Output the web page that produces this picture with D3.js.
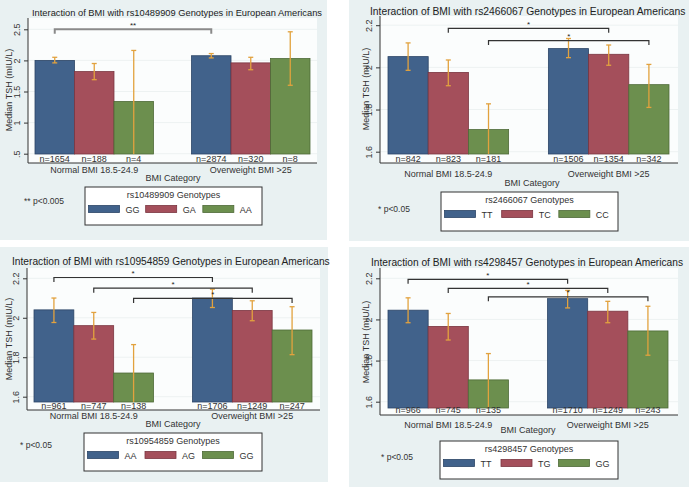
<!DOCTYPE html>
<html><head><meta charset="utf-8">
<script src="https://cdn.jsdelivr.net/npm/d3@7"></script>
<style>body{margin:0;background:#fff}svg{display:block;font-family:"Liberation Sans",Arial,sans-serif}</style>
</head><body><svg id="c" width="689" height="489"></svg>
<script>
// ---------- DATA ----------
const bmiGroups = ["Normal BMI 18.5-24.9", "Overweight BMI >25"];

// Panel A: rs10489909
const aSnp = "rs10489909";
const aGenotypes = ["GG", "GA", "AA"];
const aMedian = [[2.00, 1.82, 1.34], [2.075, 1.96, 2.03]];
const aLower = [[1.96, 1.69, 0.40], [2.04, 1.85, 1.60]];
const aUpper = [[2.05, 1.95, 2.16], [2.11, 2.05, 2.46]];
const aN = [[1654, 188, 4], [2874, 320, 8]];
const aTicks = [0.5, 1, 1.5, 2, 2.5];
const aTickLabels = [".5", "1", "1.5", "2", "2.5"];
const aBrackets = [{g: 0, level: 2.5, label: "**"}];
const aNote = "** p<0.005";

// Panel B: rs2466067
const bSnp = "rs2466067";
const bGenotypes = ["TT", "TC", "CC"];
const bMedian = [[2.051, 1.976, 1.705], [2.089, 2.062, 1.918]];
const bLower = [[1.986, 1.913, 1.50], [2.046, 2.01, 1.81]];
const bUpper = [[2.116, 2.035, 1.827], [2.137, 2.106, 2.014]];
const bN = [[842, 823, 181], [1506, 1354, 342]];
const bTicks = [1.6, 1.8, 2, 2.2];
const bTickLabels = ["1.6", "1.8", "2", "2.2"];
const bBrackets = [{g: 1, level: 2.185, label: "*"}, {g: 2, level: 2.127, label: "*"}];
const bNote = "* p<0.05";

// Panel C: rs10954859
const cSnp = "rs10954859";
const cGenotypes = ["AA", "AG", "GG"];
const cMedian = [[2.04, 1.96, 1.72], [2.10, 2.037, 1.938]];
const cLower = [[1.976, 1.892, 1.50], [2.052, 1.985, 1.813]];
const cUpper = [[2.10, 2.027, 1.864], [2.145, 2.086, 2.056]];
const cN = [[961, 747, 138], [1706, 1249, 247]];
const cTicks = [1.6, 1.8, 2, 2.2];
const cTickLabels = ["1.6", "1.8", "2", "2.2"];
const cBrackets = [{g: 0, level: 2.204, label: "*"}, {g: 1, level: 2.150, label: "*"}, {g: 2, level: 2.098, label: "*"}];
const cNote = "* p<0.05";

// Panel D: rs4298457
const dSnp = "rs4298457";
const dGenotypes = ["TT", "TG", "GG"];
const dMedian = [[2.045, 1.966, 1.706], [2.101, 2.04, 1.944]];
const dLower = [[1.984, 1.90, 1.50], [2.056, 1.984, 1.826]];
const dUpper = [[2.105, 2.029, 1.834], [2.141, 2.088, 2.064]];
const dN = [[966, 745, 135], [1710, 1249, 243]];
const dTicks = [1.6, 1.8, 2, 2.2];
const dTickLabels = ["1.6", "1.8", "2", "2.2"];
const dBrackets = [{g: 0, level: 2.195, label: "*"}, {g: 1, level: 2.151, label: "*"}, {g: 2, level: 2.110, label: "*"}];
const dNote = "* p<0.05";

const barColors = ["#41628b", "#a44f5b", "#6c8f4e"];
const barStroke = ["#2c4566", "#7a3540", "#4e6a37"];

// ---------- DRAW ----------
const svg = d3.select("#c");
let clipId = 0;

function panel(cfg, L) {
  const g = svg.append("g");
  g.append("rect").attr("x", L.bg[0]).attr("y", L.bg[1])
    .attr("width", L.bg[2] - L.bg[0]).attr("height", L.bg[3] - L.bg[1]).attr("fill", "#e9f1f2");
  g.append("rect").attr("x", L.axisX).attr("y", L.plotTop)
    .attr("width", L.plotRight - L.axisX).attr("height", L.axisY - L.plotTop).attr("fill", "#fbfdfd");

  const y = d3.scaleLinear().domain(L.yDomain).range(L.yRange);
  const x0 = d3.scaleBand().domain(bmiGroups).range(L.barRange).paddingInner(L.pad).paddingOuter(0);
  const x1 = d3.scaleBand().domain(cfg.genotypes).range([0, x0.bandwidth()]).padding(0);
  const cx = (gi, k) => x0(bmiGroups[gi]) + x1(cfg.genotypes[k]) + x1.bandwidth() / 2;

  // gridlines
  g.selectAll(".grid").data(cfg.ticks).join("line")
    .attr("x1", L.axisX).attr("x2", L.plotRight)
    .attr("y1", d => y(d)).attr("y2", d => y(d))
    .attr("stroke", "#edf2f2").attr("stroke-width", 1);

  // title
  g.append("text").attr("x", L.titleX).attr("y", L.titleY)
    .attr("text-anchor", L.titleAnchor).attr("font-size", L.titleSize).attr("fill", "#222")
    .text(`Interaction of BMI with ${cfg.snp} Genotypes in European Americans`);

  // y axis
  const yAxis = d3.axisLeft(y).tickValues(cfg.ticks).tickFormat((d, i) => cfg.tickLabels[i]).tickSize(4).tickPadding(2);
  const ya = g.append("g").attr("transform", `translate(${L.axisX},0)`).call(yAxis);
  ya.select(".domain").remove();
  ya.selectAll(".tick line").attr("stroke", "#333");
  ya.selectAll(".tick text").attr("font-size", 9).attr("fill", "#333").attr("font-family", "Liberation Sans, Arial, sans-serif")
    .attr("text-anchor", "middle").attr("dy", null).attr("x", null)
    .attr("transform", "translate(-8,0) rotate(-90)");
  g.append("line").attr("x1", L.axisX).attr("x2", L.axisX).attr("y1", L.plotTop).attr("y2", L.axisY)
    .attr("stroke", "#333").attr("stroke-width", 1);
  g.append("line").attr("x1", L.axisX).attr("x2", L.plotRight).attr("y1", L.axisY).attr("y2", L.axisY)
    .attr("stroke", "#333").attr("stroke-width", 1);
  g.append("text").attr("transform", `translate(${L.yTitleX},${(L.plotTop + L.barBottom) / 2 + 4}) rotate(-90)`)
    .attr("text-anchor", "middle").attr("font-size", 9).attr("fill", "#333").text("Median TSH (mIU/L)");

  // bars
  const flat = [];
  cfg.median.forEach((row, gi) => row.forEach((v, k) => flat.push({gi, k, v, lo: cfg.lower[gi][k], hi: cfg.upper[gi][k], n: cfg.n[gi][k]})));
  g.selectAll(".bar").data(flat).join("rect")
    .attr("x", d => x0(bmiGroups[d.gi]) + x1(cfg.genotypes[d.k]))
    .attr("width", x1.bandwidth())
    .attr("y", d => y(d.v)).attr("height", d => L.barBottom - y(d.v))
    .attr("fill", d => barColors[d.k]).attr("stroke", d => barStroke[d.k]).attr("stroke-width", 0.8);

  // error bars (clipped to plot)
  const id = "clip" + (clipId++);
  svg.append("clipPath").attr("id", id).append("rect")
    .attr("x", L.axisX).attr("y", L.plotTop).attr("width", L.plotRight - L.axisX).attr("height", L.barBottom - L.plotTop);
  const eg = g.append("g").attr("clip-path", `url(#${id})`);
  const ecol = "#e2a23e";
  eg.selectAll(".ev").data(flat).join("line")
    .attr("x1", d => cx(d.gi, d.k)).attr("x2", d => cx(d.gi, d.k))
    .attr("y1", d => y(d.hi)).attr("y2", d => y(d.lo)).attr("stroke", ecol).attr("stroke-width", 1.3);
  ["hi", "lo"].forEach(key => {
    eg.selectAll(".ec" + key).data(flat).join("line")
      .attr("x1", d => cx(d.gi, d.k) - 2.5).attr("x2", d => cx(d.gi, d.k) + 2.5)
      .attr("y1", d => y(d[key])).attr("y2", d => y(d[key])).attr("stroke", ecol).attr("stroke-width", 1.3);
  });

  // n labels
  g.selectAll(".nl").data(flat).join("text")
    .attr("x", d => cx(d.gi, d.k)).attr("y", L.nY).attr("text-anchor", "middle")
    .attr("font-size", 9).attr("fill", "#333").text(d => "n=" + d.n);

  // category labels
  g.selectAll(".cat").data(bmiGroups).join("text")
    .attr("x", d => x0(d) + x0.bandwidth() / 2).attr("y", L.catY).attr("text-anchor", "middle")
    .attr("font-size", 9).attr("fill", "#333").text(d => d);
  g.append("text").attr("x", L.xTitleX).attr("y", L.xTitleY).attr("text-anchor", "middle")
    .attr("font-size", 9).attr("fill", "#333").text("BMI Category");

  // brackets
  cfg.brackets.forEach(b => {
    const xa = cx(0, b.g), xb = cx(1, b.g), yy = y(b.level);
    g.append("path").attr("d", `M${xa},${yy + 4.5}V${yy}H${xb}V${yy + 4.5}`)
      .attr("fill", "none").attr("stroke", L.brColor).attr("stroke-width", L.brWidth);
    g.append("text").attr("x", (xa + xb) / 2).attr("y", yy - 1.5).attr("text-anchor", "middle")
      .attr("font-size", 8).attr("fill", "#222").text(b.label);
  });

  // legend
  const lb = L.legend;
  g.append("rect").attr("x", lb[0]).attr("y", lb[1]).attr("width", lb[2] - lb[0]).attr("height", lb[3] - lb[1])
    .attr("fill", "#fff").attr("stroke", "#333").attr("stroke-width", 1);
  g.append("text").attr("x", (lb[0] + lb[2]) / 2).attr("y", lb[1] + 10.5).attr("text-anchor", "middle")
    .attr("font-size", 9).attr("fill", "#333").text(`${cfg.snp} Genotypes`);
  const sw = d3.scaleBand().domain(cfg.genotypes).range([lb[0] + 3.5, lb[2] - 2]).padding(0);
  cfg.genotypes.forEach((gt, k) => {
    g.append("rect").attr("x", sw(gt)).attr("y", lb[1] + 18.5).attr("width", 31).attr("height", 7)
      .attr("fill", barColors[k]).attr("stroke", barStroke[k]).attr("stroke-width", 0.8);
    g.append("text").attr("x", sw(gt) + 37).attr("y", lb[1] + 26).attr("font-size", 9).attr("fill", "#333").text(gt);
  });
  g.append("text").attr("x", L.noteX).attr("y", L.noteY).attr("font-size", 8.5).attr("fill", "#333").text(cfg.note);
}

panel({snp: aSnp, genotypes: aGenotypes, median: aMedian, lower: aLower, upper: aUpper, n: aN,
       ticks: aTicks, tickLabels: aTickLabels, brackets: aBrackets, note: aNote},
  {bg: [0, 0, 327, 240], axisX: 28, plotRight: 317, plotTop: 18, axisY: 163, barBottom: 154,
   yDomain: [0.5, 2.5], yRange: [153.7, 29.3], barRange: [35, 310], pad: 0.243,
   titleX: 177, titleY: 15.5, titleAnchor: "middle", titleSize: 9.3, yTitleX: 12,
   nY: 162, catY: 173, xTitleX: 173, xTitleY: 181, legend: [85, 187, 262, 225],
   noteX: 24, noteY: 204, brColor: "#8a8a8a", brWidth: 2});

panel({snp: bSnp, genotypes: bGenotypes, median: bMedian, lower: bLower, upper: bUpper, n: bN,
       ticks: bTicks, tickLabels: bTickLabels, brackets: bBrackets, note: bNote},
  {bg: [349, 0, 689, 241], axisX: 380, plotRight: 678, plotTop: 16, axisY: 163, barBottom: 154,
   yDomain: [1.6, 2.2], yRange: [151.7, 25.2], barRange: [388, 669], pad: 0.248,
   titleX: 370, titleY: 15, titleAnchor: "start", titleSize: 10.3, yTitleX: 369,
   nY: 162, catY: 177, xTitleX: 532, xTitleY: 186, legend: [441, 192, 618, 231],
   noteX: 378, noteY: 212, brColor: "#333", brWidth: 1.2});

panel({snp: cSnp, genotypes: cGenotypes, median: cMedian, lower: cLower, upper: cUpper, n: cN,
       ticks: cTicks, tickLabels: cTickLabels, brackets: cBrackets, note: cNote},
  {bg: [0, 247, 328, 482], axisX: 27, plotRight: 320, plotTop: 268, axisY: 410, barBottom: 402,
   yDomain: [1.6, 2.2], yRange: [396.7, 278.3], barRange: [34, 312], pad: 0.246,
   titleX: 12, titleY: 265, titleAnchor: "start", titleSize: 10.2, yTitleX: 12,
   nY: 409, catY: 419, xTitleX: 173, xTitleY: 427, legend: [84, 433, 262, 471],
   noteX: 20, noteY: 448, brColor: "#333", brWidth: 1.2});

panel({snp: dSnp, genotypes: dGenotypes, median: dMedian, lower: dLower, upper: dUpper, n: dN,
       ticks: dTicks, tickLabels: dTickLabels, brackets: dBrackets, note: dNote},
  {bg: [349, 247, 689, 487], axisX: 380, plotRight: 678, plotTop: 268, axisY: 415, barBottom: 408,
   yDomain: [1.6, 2.2], yRange: [401.7, 278.3], barRange: [388, 668], pad: 0.245,
   titleX: 371, titleY: 266, titleAnchor: "start", titleSize: 10.2, yTitleX: 369,
   nY: 413, catY: 428, xTitleX: 528, xTitleY: 433, legend: [440, 441, 618, 479],
   noteX: 381, noteY: 460, brColor: "#333", brWidth: 1.2});
</script></body></html>
